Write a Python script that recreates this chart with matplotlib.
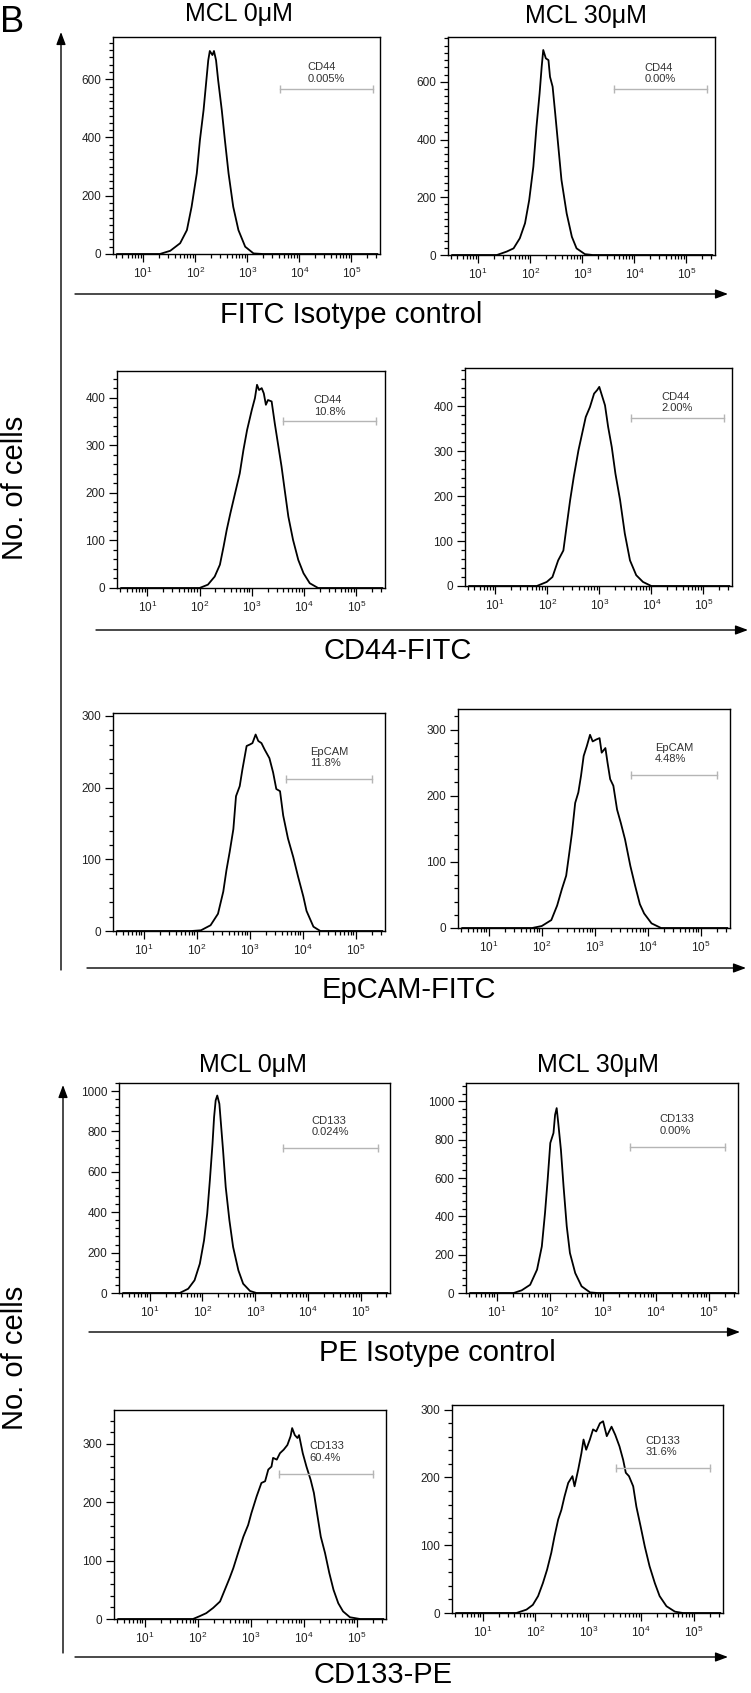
import matplotlib.pyplot as plt
from matplotlib.ticker import FixedLocator, MultipleLocator, AutoMinorLocator, LogLocator, NullFormatter
import numpy as np

plt.rcParams['font.family'] = ['Liberation Sans', 'DejaVu Sans']

W, H = 751, 1693

# ---------------- data ----------------
# x values are log10(fluorescence), y values are cell counts
treatments = ["MCL 0μM", "MCL 30μM"]
stains = ["FITC Isotype control", "CD44-FITC", "EpCAM-FITC", "PE Isotype control", "CD133-PE"]
gate_names = ["CD44", "CD44", "EpCAM", "CD133", "CD133"]
gate_pct = [["0.005%", "0.00%"],
            ["10.8%", "2.00%"],
            ["11.8%", "4.48%"],
            ["0.024%", "0.00%"],
            ["60.4%", "31.6%"]]

fitc_iso_0_x = [0.5, 1.32, 1.52, 1.71, 1.84, 1.93, 2.03, 2.09, 2.16, 2.22, 2.25, 2.28, 2.33, 2.36, 2.40,
                2.44, 2.51, 2.57, 2.64, 2.73, 2.83, 2.96, 3.12, 3.3, 5.5]
fitc_iso_0_y = [0, 0, 11, 37, 82, 162, 277, 391, 494, 608, 665, 697, 683, 697, 665,
                597, 494, 391, 277, 162, 82, 25, 2, 0, 0]

fitc_iso_30_x = [0.5, 1.36, 1.55, 1.68, 1.80, 1.90, 1.98, 2.06, 2.12, 2.18, 2.22, 2.25, 2.30, 2.35, 2.38,
                 2.43, 2.48, 2.54, 2.60, 2.70, 2.80, 2.89, 3.05, 3.2, 5.5]
fitc_iso_30_y = [0, 0, 12, 23, 58, 110, 190, 306, 444, 560, 652, 710, 681, 675, 617,
                 583, 490, 375, 260, 144, 63, 23, 3, 0, 0]

cd44_0_x = [0.5, 2.00, 2.16, 2.29, 2.39, 2.46, 2.52, 2.59, 2.68, 2.77, 2.84, 2.91, 3.00, 3.06, 3.10,
            3.14, 3.19, 3.23, 3.27, 3.31, 3.38, 3.44, 3.51, 3.57, 3.63, 3.70, 3.79, 3.89, 3.99,
            4.11, 4.27, 5.5]
cd44_0_y = [0, 0, 7, 24, 49, 87, 122, 157, 199, 241, 290, 332, 374, 399, 427,
            416, 420, 409, 385, 395, 392, 346, 297, 255, 206, 150, 101, 59, 31,
            10, 0, 0]

cd44_30_x = [0.5, 1.80, 1.99, 2.10, 2.21, 2.31, 2.37, 2.44, 2.51, 2.60, 2.67, 2.74, 2.82, 2.90, 2.96,
             3.00, 3.04, 3.11, 3.17, 3.24, 3.31, 3.40, 3.49, 3.59, 3.71, 3.84, 4.00, 5.5]
cd44_30_y = [0, 0, 9, 20, 57, 79, 131, 191, 243, 302, 339, 376, 398, 428, 436,
             443, 428, 402, 354, 309, 250, 191, 117, 57, 24, 9, 0, 0]

epcam_0_x = [0.5, 1.90, 2.08, 2.26, 2.40, 2.50, 2.56, 2.62, 2.69, 2.74, 2.81, 2.86, 2.94, 3.00, 3.05,
             3.11, 3.16, 3.22, 3.28, 3.37, 3.44, 3.50, 3.57, 3.63, 3.72, 3.82, 3.91, 4.01, 4.07,
             4.20, 4.33, 5.5]
epcam_0_y = [0, 0, 1, 8, 24, 55, 85, 110, 142, 188, 202, 225, 258, 260, 262,
             274, 265, 262, 253, 241, 221, 198, 195, 161, 129, 103, 76, 48, 28,
             6, 0, 0]

epcam_30_x = [0.5, 1.82, 2.00, 2.18, 2.29, 2.38, 2.46, 2.52, 2.57, 2.63, 2.69, 2.74, 2.79, 2.85, 2.91,
              2.96, 3.03, 3.09, 3.13, 3.20, 3.24, 3.29, 3.35, 3.42, 3.49, 3.57, 3.67, 3.76, 3.85,
              3.93, 4.07, 4.25, 5.5]
epcam_30_y = [0, 0, 3, 12, 34, 59, 79, 114, 144, 189, 205, 230, 260, 275, 292,
              282, 285, 287, 265, 272, 250, 225, 215, 179, 159, 134, 94, 64, 36,
              22, 7, 0, 0]

pe_iso_0_x = [0.5, 1.57, 1.73, 1.85, 1.95, 2.03, 2.09, 2.14, 2.19, 2.22, 2.25, 2.28, 2.32, 2.35, 2.39,
              2.44, 2.51, 2.58, 2.68, 2.77, 2.90, 3.02, 5.5]
pe_iso_0_y = [0, 0, 21, 63, 145, 261, 393, 558, 739, 871, 954, 978, 937, 838, 706,
              525, 360, 228, 112, 46, 10, 0, 0]

pe_iso_30_x = [0.5, 1.32, 1.47, 1.63, 1.76, 1.85, 1.91, 1.96, 2.01, 2.04, 2.07, 2.10, 2.13, 2.16, 2.21,
               2.26, 2.32, 2.38, 2.48, 2.60, 2.76, 2.9, 5.5]
pe_iso_30_y = [0, 0, 14, 43, 122, 243, 417, 591, 783, 809, 835, 930, 965, 887, 748,
               556, 348, 209, 104, 35, 3, 0, 0]

cd133_0_x = [0.5, 1.91, 2.04, 2.16, 2.29, 2.42, 2.51, 2.60, 2.67, 2.76, 2.86, 2.95, 3.01, 3.11, 3.20,
             3.27, 3.33, 3.39, 3.42, 3.49, 3.55, 3.62, 3.69, 3.75, 3.78, 3.83, 3.88, 3.91, 3.98,
             4.05, 4.13, 4.19, 4.25, 4.32, 4.40, 4.48, 4.56, 4.65, 4.74, 4.87, 5.06, 5.5]
cd133_0_y = [0, 0, 5, 10, 19, 30, 50, 70, 87, 113, 141, 161, 181, 210, 233,
             236, 256, 261, 276, 273, 284, 290, 298, 313, 327, 315, 310, 315, 284,
             261, 238, 216, 181, 141, 113, 79, 50, 27, 13, 3, 0, 0]

cd133_30_x = [0.5, 1.64, 1.83, 1.95, 2.05, 2.14, 2.22, 2.30, 2.36, 2.43, 2.49, 2.55, 2.62, 2.70, 2.74,
              2.81, 2.87, 2.91, 2.96, 3.03, 3.09, 3.15, 3.22, 3.28, 3.35, 3.44, 3.51, 3.59, 3.66,
              3.71, 3.77, 3.85, 3.91, 3.99, 4.07, 4.16, 4.26, 4.35, 4.48, 4.64, 4.79, 5.5]
cd133_30_y = [0, 0, 5, 12, 25, 44, 64, 89, 113, 138, 152, 172, 192, 202, 187,
              212, 236, 256, 241, 256, 271, 268, 280, 283, 261, 275, 263, 246, 226,
              207, 202, 187, 157, 128, 98, 69, 44, 25, 10, 2, 0, 0]

hist_x = [[fitc_iso_0_x, fitc_iso_30_x], [cd44_0_x, cd44_30_x], [epcam_0_x, epcam_30_x],
          [pe_iso_0_x, pe_iso_30_x], [cd133_0_x, cd133_30_x]]
hist_y = [[fitc_iso_0_y, fitc_iso_30_y], [cd44_0_y, cd44_30_y], [epcam_0_y, epcam_30_y],
          [pe_iso_0_y, pe_iso_30_y], [cd133_0_y, cd133_30_y]]

# gate (log10 low, log10 high, count level)
gate_lo = [[3.62, 3.61], [3.60, 3.60], [3.68, 3.68], [3.53, 3.51], [3.54, 3.52]]
gate_hi = [[5.41, 5.39], [5.38, 5.39], [5.31, 5.31], [5.32, 5.30], [5.31, 5.31]]
gate_y = [[568, 575], [350, 373], [212, 231], [718, 763], [249, 214]]

y_max = [[745, 755], [456, 485], [304, 331], [1040, 1096], [358, 307]]
y_step = [200, 100, 100, 200, 100]
y_minor = [8, 5, 5, 5, 5]

# ---------------- layout (pixels in the 751x1693 picture) ----------------
boxes = [[(113, 37, 380, 254), (448, 37, 715, 255)],
         [(117, 371, 385, 588), (465, 368, 732, 586)],
         [(113, 713, 385, 931), (458, 709, 730, 928)],
         [(119, 1083, 390, 1293), (466, 1083, 738, 1293)],
         [(114, 1410, 386, 1619), (452, 1405, 723, 1613)]]
arrows_h = [(75, 728, 294), (96, 748, 630), (87, 746, 968), (89, 740, 1332), (75, 728, 1657)]
stain_pos = [(351, 315), (398, 651), (409, 990), (437, 1353), (383, 1675)]
title_pos = [[(239, 14), (586, 16)], None, None, [(253, 1065), (598, 1065)], None]
gate_gap = [3.5, 3.5, 8, 8, 8]

fig = plt.figure(figsize=(W / 100, H / 100), dpi=100)
ov = fig.add_axes([0, 0, 1, 1], zorder=-1)
ov.set_xlim(0, W)
ov.set_ylim(H, 0)
ov.axis('off')

arrow_style = dict(arrowstyle='-|>,head_length=0.75,head_width=0.28', color='black',
                   lw=1.0, shrinkA=0, shrinkB=0, mutation_scale=10)

ov.text(0, 23, "B", fontsize=26, ha='left', va='center')

# vertical "No. of cells" axes
for x, top, bottom in [(61, 32, 970), (63, 1085, 1653)]:
    ov.annotate('', xy=(x, top), xytext=(x, bottom), arrowprops=arrow_style)
ov.text(15, 488, "No. of cells", fontsize=21, rotation=90, ha='center', va='center')
ov.text(15, 1358, "No. of cells", fontsize=21, rotation=90, ha='center', va='center')

for r in range(5):
    x0, x1, ya = arrows_h[r]
    ov.annotate('', xy=(x1, ya), xytext=(x0, ya), arrowprops=arrow_style)
    ov.text(stain_pos[r][0], stain_pos[r][1], stains[r], fontsize=21, ha='center', va='center')
    if title_pos[r] is not None:
        for c in range(2):
            ov.text(title_pos[r][c][0], title_pos[r][c][1], treatments[c], fontsize=18,
                    ha='center', va='center')

    for c in range(2):
        l, t, rr, b = boxes[r][c]
        ax = fig.add_axes([l / W, 1 - b / H, (rr - l) / W, (b - t) / H])
        xs = [10 ** v for v in hist_x[r][c]]
        ax.plot(xs, hist_y[r][c], color='black', lw=1.3, solid_joinstyle='round')

        ax.set_xscale('log')
        ax.set_xlim(10 ** 0.42, 10 ** 5.55)
        ax.set_ylim(0, y_max[r][c])

        ax.xaxis.set_major_locator(FixedLocator([10 ** k for k in range(1, 6)]))
        ax.set_xticklabels([r'$\mathregular{10^{%d}}$' % k for k in range(1, 6)])
        ax.xaxis.set_minor_locator(LogLocator(base=10, subs=np.arange(2, 10), numticks=20))
        ax.xaxis.set_minor_formatter(NullFormatter())
        ax.yaxis.set_major_locator(MultipleLocator(y_step[r]))
        ax.yaxis.set_minor_locator(AutoMinorLocator(y_minor[r]))

        ax.tick_params(which='both', direction='out', top=False, right=False,
                       labelsize=8.5, labelcolor='#222222', width=0.9)
        ax.tick_params(which='major', length=5.5, pad=3)
        ax.tick_params(which='minor', length=2.8)
        for s in ax.spines.values():
            s.set_linewidth(1.0)

        # gate marker
        glo, ghi, gy = 10 ** gate_lo[r][c], 10 ** gate_hi[r][c], gate_y[r][c]
        ax.plot([glo, ghi], [gy, gy], color='#b5b5b5', lw=1.0, marker='|', markersize=6,
                markeredgewidth=1.0)
        gmid = 10 ** ((gate_lo[r][c] + gate_hi[r][c]) / 2)
        ax.annotate(gate_names[r] + "\n" + gate_pct[r][c], xy=(gmid, gy),
                    xytext=(0, gate_gap[r]), textcoords='offset points',
                    ha='center', va='bottom', multialignment='left',
                    fontsize=8, color='#333333', linespacing=1.15)

fig.savefig("out.png", dpi=100)
